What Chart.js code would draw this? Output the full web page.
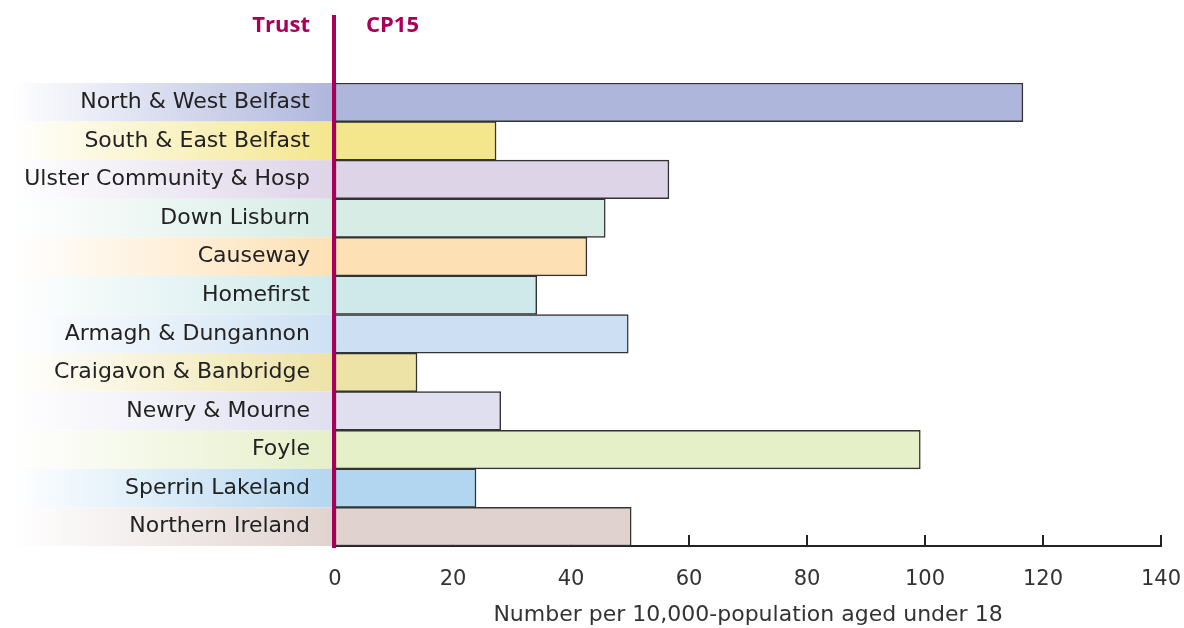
<!DOCTYPE html>
<html>
<head>
<meta charset="utf-8">
<script src="https://cdn.jsdelivr.net/npm/chart.js@4"></script>
<style>
  html, body { margin: 0; padding: 0; background: #fff; }
  #wrap { width: 1184px; height: 628px; }
</style>
</head>
<body>
<div id="wrap"><canvas id="cp15Chart" width="1184" height="628"></canvas></div>
<script>
var trusts = ['North & West Belfast', 'South & East Belfast', 'Ulster Community & Hosp', 'Down Lisburn',
    'Causeway', 'Homefirst', 'Armagh & Dungannon', 'Craigavon & Banbridge', 'Newry & Mourne',
    'Foyle', 'Sperrin Lakeland', 'Northern Ireland'];
var rates = [116.6, 27.3, 56.6, 45.8, 42.7, 34.2, 49.7, 13.9, 28.1, 99.2, 23.9, 50.2];
var barColours = ['#aeb6dc', '#f4e68c', '#ddd4e8', '#d6ece5', '#fde0b4', '#cfe9ea',
    '#cde0f3', '#ede3a6', '#dfdff0', '#e5efc8', '#b3d6f0', '#e0d3cf'];
var xTicks = [0, 20, 40, 60, 80, 100, 120, 140];

var FONT = '"DejaVu Sans", sans-serif';
var HEAD_FONT = '"Open Sans", "DejaVu Sans", sans-serif';
var MAGENTA = '#a8005a';

// gradient bands behind the trust names, axis line and upward ticks
var backdrop = {
    id: 'backdrop',
    beforeDraw: function (chart) {
        var ctx = chart.ctx;
        var y = chart.scales.y;
        var area = chart.chartArea;
        var rowH = (area.bottom - area.top) / trusts.length;
        ctx.save();
        trusts.forEach(function (name, i) {
            var cy = y.getPixelForValue(i);
            var g = ctx.createLinearGradient(0, 0, area.left, 0);
            g.addColorStop(0, '#ffffff');
            g.addColorStop(0.03, '#ffffff');
            g.addColorStop(1, barColours[i]);
            ctx.fillStyle = g;
            ctx.fillRect(0, cy - rowH / 2, area.left, rowH);
        });
        ctx.restore();
    },
    beforeDatasetsDraw: function (chart) {
        var ctx = chart.ctx;
        var x = chart.scales.x;
        var area = chart.chartArea;
        ctx.save();
        ctx.strokeStyle = '#222';
        ctx.lineWidth = 2;
        ctx.beginPath();
        ctx.moveTo(area.left, area.bottom);
        ctx.lineTo(x.getPixelForValue(140) + 1, area.bottom);
        xTicks.forEach(function (v) {
            var px = x.getPixelForValue(v);
            ctx.moveTo(px, area.bottom);
            ctx.lineTo(px, area.bottom - 11);
        });
        ctx.stroke();
        ctx.restore();
    },
    afterDatasetsDraw: function (chart) {
        var ctx = chart.ctx;
        var left = chart.chartArea.left;
        ctx.save();
        ctx.fillStyle = MAGENTA;
        ctx.fillRect(left - 3, 15, 4, chart.chartArea.bottom + 2 - 15);
        ctx.font = 'bold 22px ' + HEAD_FONT;
        ctx.textBaseline = 'middle';
        ctx.textAlign = 'right';
        ctx.fillText('Trust', 310, 26);
        ctx.textAlign = 'left';
        ctx.fillText('CP15', 366, 26);
        ctx.restore();
    }
};

var config = {
    type: 'bar',
    data: {
        labels: trusts,
        datasets: [{
            data: rates,
            backgroundColor: barColours,
            borderColor: '#333',
            borderWidth: 1.5,
            borderSkipped: false,
            barPercentage: 1,
            categoryPercentage: 1
        }]
    },
    options: {
        indexAxis: 'y',
        responsive: false,
        animation: false,
        layout: { padding: { top: 83, right: 23, left: 0, bottom: 0 } },
        plugins: {
            legend: { display: false },
            tooltip: { enabled: false }
        },
        scales: {
            x: {
                min: 0,
                max: 140,
                afterFit: function (s) { s.height = 82; s.paddingRight = 0; s.paddingLeft = 0; },
                afterBuildTicks: function (s) { s.ticks = xTicks.map(function (v) { return { value: v }; }); },
                grid: { display: false, drawTicks: false },
                border: { display: false },
                ticks: { padding: 21, color: '#333', font: { family: FONT, size: 21 } },
                title: {
                    display: true,
                    text: 'Number per 10,000-population aged under 18',
                    color: '#333',
                    font: { family: FONT, size: 22 },
                    padding: { top: 0, bottom: 0 }
                }
            },
            y: {
                afterFit: function (s) { s.width = 335; },
                grid: { display: false, drawTicks: false },
                border: { display: false },
                ticks: { padding: 25, color: '#222', font: { family: FONT, size: 22 } }
            }
        }
    },
    plugins: [backdrop]
};

var ctx = document.getElementById('cp15Chart').getContext('2d');
window.cp15 = new Chart(ctx, config);
</script>
</body>
</html>
